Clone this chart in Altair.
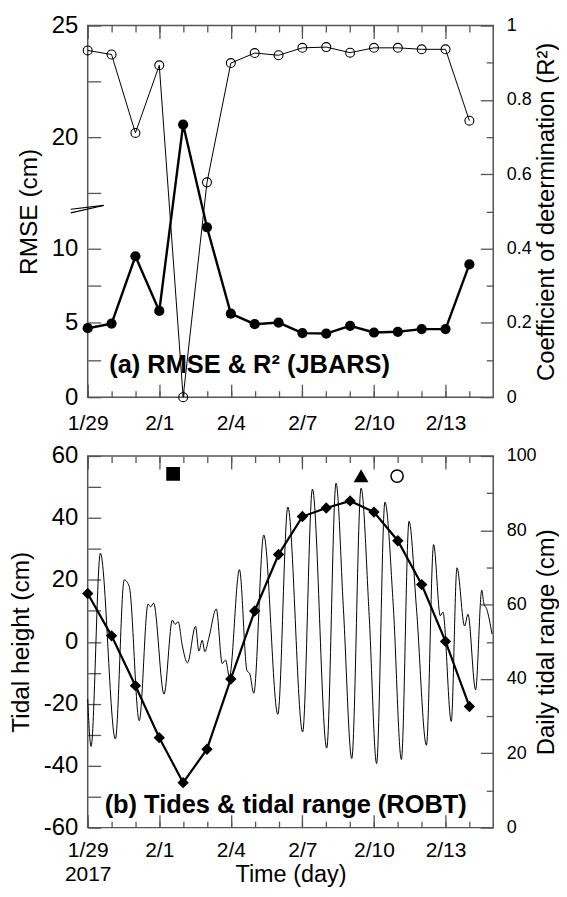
import json
import altair as alt
import pandas as pd

# ---------------- data ----------------
DATES = ["1/29", "1/30", "1/31", "2/1", "2/2", "2/3", "2/4", "2/5", "2/6",
         "2/7", "2/8", "2/9", "2/10", "2/11", "2/12", "2/13", "2/14"]
RMSE_CM = [4.64, 4.95, 9.48, 5.80, 20.56, 11.43, 5.62, 4.91, 5.02,
           4.31, 4.28, 4.80, 4.35, 4.40, 4.58, 4.58, 8.93]
R2 = [0.933, 0.922, 0.711, 0.893, 0.0, 0.578, 0.899, 0.926, 0.920,
      0.940, 0.942, 0.927, 0.940, 0.940, 0.936, 0.936, 0.744]
RANGE_CM = [63.0, 51.6, 38.2, 24.2, 12.1, 21.1, 40.0, 58.3, 73.5,
            83.7, 86.0, 87.9, 84.9, 77.2, 65.4, 50.1, 32.6]

# tide curve: turning points / shoulders (days after 1/29)
TIDE_DAY = [0.00, 0.14, 0.53, 1.16, 1.53, 1.74, 2.16, 2.53, 2.64, 2.76, 3.20,
            3.55, 3.66, 3.79, 3.97, 4.18, 4.52, 4.66, 4.80, 4.91, 5.08, 5.39,
            5.64, 5.78, 5.94, 6.36, 6.68, 6.79, 6.96, 7.38, 7.97, 8.39, 9.01,
            9.42, 10.02, 10.41, 10.72, 11.07, 11.46, 11.80, 12.11, 12.46, 12.81,
            13.15, 13.47, 13.78, 14.20, 14.50, 14.78, 14.89, 15.24, 15.48, 15.80,
            15.94, 16.26, 16.52, 16.60, 16.73, 16.95]
TIDE_CM = [-18.5, -33.8, 28.6, -31.4, 20.0, 17.9, -25.5, 12.2, 11.3, 12.5, -16.9,
           7.0, 5.6, 6.5, -1.4, -6.8, 5.0, -3.0, 0.5, -3.2, 1.3, 10.6,
           -7.0, -5.9, -11.3, 23.3, -9.4, -10.2, -16.6, 34.5, -23.4, 43.5, -29.1,
           49.3, -34.3, 51.2, 10.5, -37.7, 49.6, 8.4, -39.3, 45.1, 11.6,
           -38.0, 38.9, 11.0, -33.4, 31.4, 8.4, 9.6, -25.7, 23.9, 5.1,
           8.9, -15.5, 16.7, 12.6, 10.5, 2.5]

MARKER_DAY = [3.58, 11.46, 12.97]
MARKER_CM = [54.2, 53.5, 53.5]
MARKER_SHAPE = ["square", "triangle-up", "circle"]
MARKER_FILL = ["black", "black", "transparent"]

X_TICK_DAYS = [0, 3, 6, 9, 12, 15]
X_TICK_LABELS = ["1/29", "2/1", "2/4", "2/7", "2/10", "2/13"]
YEAR_LABEL = "2017"
PANEL_LABELS = ["(a) RMSE & R\u00b2 (JBARS)", "(b) Tides & tidal range (ROBT)"]
RMSE_TICKS = [0, 2.5, 5, 7.5, 10, 17.5, 20, 22.5, 25]
R2_MAJOR = [0, 0.2, 0.4, 0.6, 0.8, 1]
R2_MINOR = [0.1, 0.3, 0.5, 0.7, 0.9]
TIDE_TICKS = list(range(-60, 61, 10))
RANGE_MAJOR = [0, 20, 40, 60, 80, 100]
RANGE_MINOR = [10, 30, 50, 70, 90]

# broken RMSE axis: values >= BREAK_LO are drawn on a stretched upper segment
BREAK_LO = 15.0
UPPER_BASE = 20.0
UPPER_POS = 17.5
UPPER_STRETCH = 1.5
BREAK_POS = 12.4

# ---------------- style ----------------
FONT = "Liberation Sans"
FRAME = "#555555"
W, H = 407, 373
TMAJ, TMIN_X, TMIN_R = 13, 6.5, 7
ALL_DAYS = list(range(len(DATES)))
TICK_FS, XTICK_FS, RTICK_FS, PANEL_FS = 24, 21, 18, 25.5
LTITLE_FS, RTITLE_FS, XTITLE_FS = 24.5, 24, 23.5


def rmse_pos(v):
    return v if v < BREAK_LO else UPPER_POS + (v - UPPER_BASE) * UPPER_STRETCH


def ax(tick, **kw):
    # inward ticks: the axis is moved inside the frame by the tick length
    base = dict(grid=False, domain=False, labelFlush=False, labelOverlap=False,
                offset=-tick, tickSize=tick,
                tickColor=FRAME, tickWidth=1.3, labelFont=FONT, titleFont=FONT,
                labelColor="black", titleColor="black", titleFontWeight="normal")
    base.update(kw)
    return alt.Axis(**base)


xscale = alt.Scale(domain=[0, 17], nice=False, zero=False)


def x_enc(axis):
    return alt.X("day:Q", scale=xscale, axis=axis)


def extra_x_axes(df, yfield, yscale):
    out = []
    for orient, size, vals in [("bottom", TMIN_X, ALL_DAYS), ("top", TMAJ, X_TICK_DAYS),
                               ("top", TMIN_X, ALL_DAYS)]:
        out.append(alt.Chart(df).mark_point(opacity=0).encode(
            x=x_enc(ax(size, orient=orient, values=vals, labels=False, title=None)),
            y=alt.Y(yfield, scale=yscale, axis=None)))
    return out


labels_js = json.dumps(X_TICK_LABELS)

# ---------------- panel (a) ----------------
top = pd.DataFrame({"day": ALL_DAYS, "date": DATES, "rmse": RMSE_CM, "r2": R2})
pos_expr = (f"datum.rmse < {BREAK_LO} ? datum.rmse : "
            f"{UPPER_POS} + (datum.rmse - {UPPER_BASE}) * {UPPER_STRETCH}")
inv = f"(datum.value > {BREAK_POS} ? {UPPER_BASE} + (datum.value - {UPPER_POS}) / {UPPER_STRETCH} : datum.value)"
ls_a = alt.Scale(domain=[0, 25], nice=False, zero=False)
rs_a = alt.Scale(domain=[0, 1], nice=False, zero=False)

xb_a = ax(TMAJ, orient="bottom", values=X_TICK_DAYS, labelPadding=15,
          labelFontSize=XTICK_FS, labelExpr=f"{labels_js}[round(datum.value / 3)]", title=None)
yl_a = ax(TMAJ, orient="left", values=[rmse_pos(v) for v in RMSE_TICKS],
          labelPadding=10, labelFontSize=TICK_FS,
          labelExpr=f"{inv} % 5 == 0 ? '' + round({inv}) : ''",
          title="RMSE (cm)", titleFontSize=LTITLE_FS, titleAngle=270, titleBaseline="middle",
          titleX=-58.6 - TMAJ, titleY=H / 2)
yr_a = ax(TMAJ, orient="right", values=R2_MAJOR, labelPadding=13, labelFontSize=RTICK_FS,
          labelExpr="'' + datum.value", title="Coefficient of determination (R\u00b2)",
          titleFontSize=RTITLE_FS, titleAngle=270, titleBaseline="middle",
          titleX=53 + TMAJ, titleY=H / 2)
yr_a_min = ax(TMIN_R, orient="right", values=R2_MINOR, labels=False, title=None)

base_a = alt.Chart(top).transform_calculate(rmse_pos=pos_expr)
rmse_line = base_a.mark_line(color="black", strokeWidth=2.4).encode(
    x=x_enc(xb_a), y=alt.Y("rmse_pos:Q", scale=ls_a, axis=yl_a))
rmse_pts = base_a.mark_point(shape="circle", filled=True, color="black", size=105, opacity=1).encode(
    x=x_enc(None), y=alt.Y("rmse_pos:Q", scale=ls_a, axis=None))
brk = []
for off in [0, -3.6]:
    brk.append(alt.Chart(top).transform_filter("datum.day == 0").mark_rule(
        color="black", strokeWidth=1.1, yOffset=off).encode(
        x=alt.value(-17), x2=alt.value(16),
        y=alt.YDatum(BREAK_POS, scale=ls_a, axis=None), y2=alt.Y2Datum(BREAK_POS + 0.5)))
lab_a = alt.Chart(pd.DataFrame({"t": [PANEL_LABELS[0]]})).mark_text(
    align="left", baseline="alphabetic", font=FONT, fontSize=PANEL_FS, fontWeight="bold",
    color="black").encode(x=alt.value(21.6), y=alt.value(348.4), text="t:N")

left_a = alt.layer(rmse_line, rmse_pts, *brk, *extra_x_axes(top, "rmse_pos:Q", ls_a), lab_a
                   ).resolve_axis(x="independent", y="independent")

r2_line = alt.Chart(top).mark_line(color="black", strokeWidth=1).encode(
    x=x_enc(None), y=alt.Y("r2:Q", scale=rs_a, axis=yr_a))
r2_pts = alt.Chart(top).mark_point(shape="circle", filled=False, stroke="black", strokeWidth=1.1,
                                   size=80, opacity=1).encode(
    x=x_enc(None), y=alt.Y("r2:Q", scale=rs_a, axis=None))
r2_min = alt.Chart(top).mark_point(opacity=0).encode(
    x=x_enc(None), y=alt.Y("r2:Q", scale=rs_a, axis=yr_a_min))
right_a = alt.layer(r2_line, r2_pts, r2_min).resolve_axis(x="independent", y="independent")

panel_a = alt.layer(left_a, right_a).resolve_scale(y="independent").resolve_axis(
    x="independent", y="independent").properties(width=W, height=H)

# ---------------- panel (b) ----------------
tide = pd.DataFrame({"day": TIDE_DAY, "cm": TIDE_CM})
rng = pd.DataFrame({"day": ALL_DAYS, "range": RANGE_CM})
marks = pd.DataFrame({"day": MARKER_DAY, "cm": MARKER_CM, "shape": MARKER_SHAPE, "fill": MARKER_FILL})
ls_b = alt.Scale(domain=[-60, 60], nice=False, zero=False)
rs_b = alt.Scale(domain=[0, 100], nice=False, zero=False)

xb_b = ax(TMAJ, orient="bottom", values=X_TICK_DAYS, labelPadding=12, labelFontSize=XTICK_FS,
          labelLineHeight=24,
          labelExpr=f"datum.value == 0 ? [{json.dumps(X_TICK_LABELS[0])}, {json.dumps(YEAR_LABEL)}] : "
                    f"{labels_js}[round(datum.value / 3)]",
          title="Time (day)", titleFontSize=XTITLE_FS, titleBaseline="alphabetic", titleX=W / 2,
          titleY=54.5 + TMAJ)
yl_b = ax(TMAJ, orient="left", values=TIDE_TICKS, labelPadding=10, labelFontSize=TICK_FS,
          labelExpr="datum.value % 20 == 0 ? '' + datum.value : ''",
          title="Tidal height (cm)", titleFontSize=LTITLE_FS, titleAngle=270, titleBaseline="middle",
          titleX=-66 - TMAJ, titleY=H / 2)
yr_b = ax(TMAJ, orient="right", values=RANGE_MAJOR, labelPadding=13, labelFontSize=RTICK_FS,
          labelExpr="'' + datum.value", title="Daily tidal range (cm)", titleFontSize=RTITLE_FS,
          titleAngle=270, titleBaseline="middle", titleX=53 + TMAJ, titleY=H / 2)
yr_b_min = ax(TMIN_R, orient="right", values=RANGE_MINOR, labels=False, title=None)

tide_line = alt.Chart(tide).mark_line(color="black", strokeWidth=1, interpolate="monotone").encode(
    x=x_enc(xb_b), y=alt.Y("cm:Q", scale=ls_b, axis=yl_b))
mark_pts = alt.Chart(marks).mark_point(stroke="black", strokeWidth=1.5, size=150, opacity=1).encode(
    x=x_enc(None), y=alt.Y("cm:Q", scale=ls_b, axis=None),
    shape=alt.Shape("shape:N", scale=None), fill=alt.Fill("fill:N", scale=None))
lab_b = alt.Chart(pd.DataFrame({"t": [PANEL_LABELS[1]]})).mark_text(
    align="left", baseline="alphabetic", font=FONT, fontSize=PANEL_FS, fontWeight="bold",
    color="black").encode(x=alt.value(17), y=alt.value(358), text="t:N")
left_b = alt.layer(tide_line, mark_pts, *extra_x_axes(tide, "cm:Q", ls_b), lab_b
                   ).resolve_axis(x="independent", y="independent")

rng_line = alt.Chart(rng).mark_line(color="black", strokeWidth=2.2).encode(
    x=x_enc(None), y=alt.Y("range:Q", scale=rs_b, axis=yr_b))
rng_pts = alt.Chart(rng).mark_point(shape="diamond", filled=True, color="black", size=130,
                                    opacity=1).encode(
    x=x_enc(None), y=alt.Y("range:Q", scale=rs_b, axis=None))
rng_min = alt.Chart(rng).mark_point(opacity=0).encode(
    x=x_enc(None), y=alt.Y("range:Q", scale=rs_b, axis=yr_b_min))
right_b = alt.layer(rng_line, rng_pts, rng_min).resolve_axis(x="independent", y="independent")

panel_b = alt.layer(left_b, right_b).resolve_scale(y="independent").resolve_axis(
    x="independent", y="independent").properties(width=W, height=H)

chart = alt.vconcat(panel_a, panel_b, spacing=59, bounds="flush").properties(
    padding={"left": 0, "top": 3, "right": 0, "bottom": 0}
).configure_view(stroke=FRAME, strokeWidth=1.5)

chart.save("out.html", embed_options={"renderer": "svg", "actions": False})
